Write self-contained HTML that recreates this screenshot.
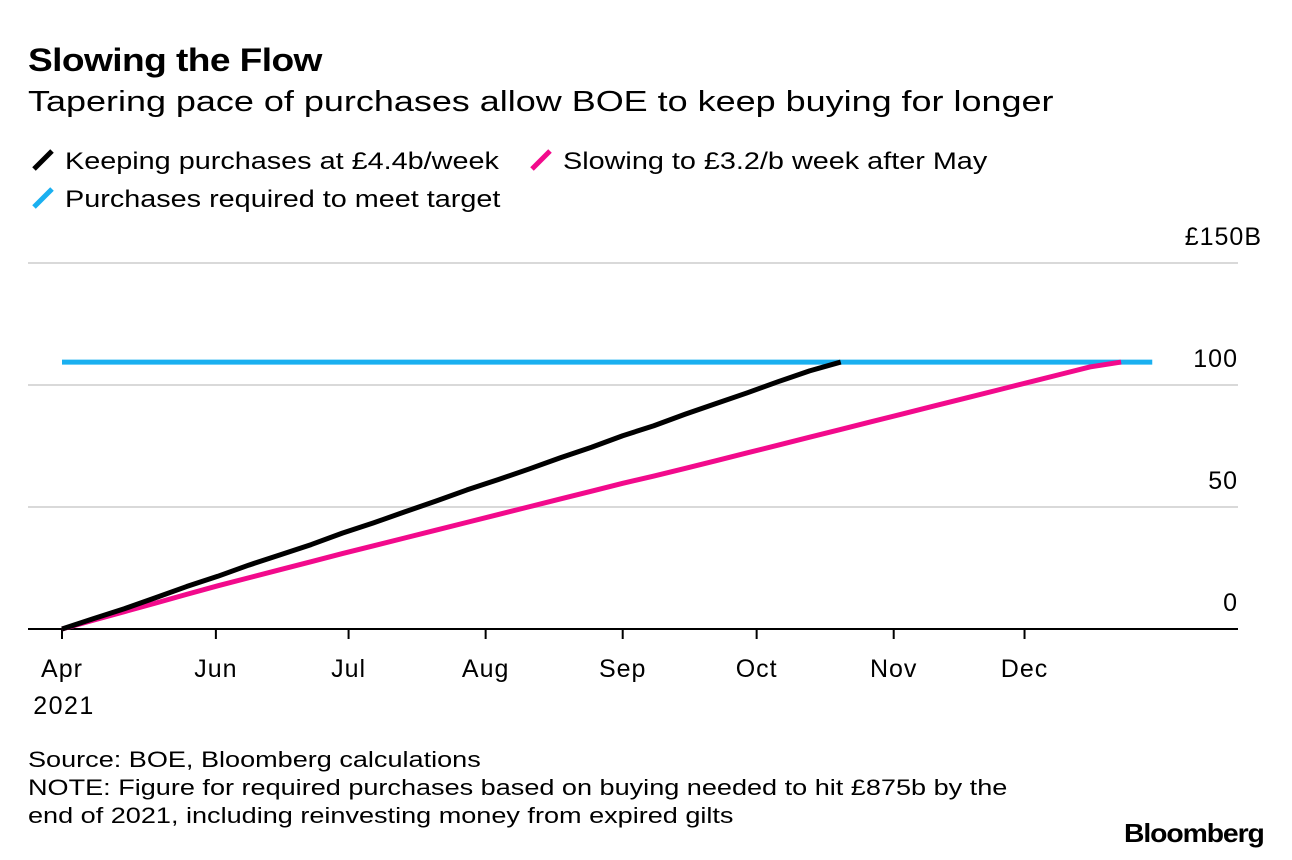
<!DOCTYPE html>
<html><head><meta charset="utf-8"><style>
body{margin:0;background:#fff;width:1292px;height:860px;overflow:hidden;font-family:"Liberation Sans",sans-serif;color:#000}
.t{position:absolute;white-space:nowrap;transform-origin:left top}
</style></head><body>
<div class="t" style="left:28px;top:42px;font-size:32px;font-weight:bold;letter-spacing:-0.5px;transform:scaleX(1.16)">Slowing the Flow</div>
<div class="t" style="left:28px;top:86px;font-size:29px;transform:scaleX(1.24)">Tapering pace of purchases allow BOE to keep buying for longer</div>
<div class="t" style="left:28px;top:147px;font-size:24px"><svg width="30" height="26" style="vertical-align:-4px"><line x1="6" y1="22" x2="24" y2="4" stroke="#000" stroke-width="5"/></svg> <span style="display:inline-block;transform:scaleX(1.2);transform-origin:left">Keeping purchases at £4.4b/week</span></div>
<div class="t" style="left:526px;top:147px;font-size:24px"><svg width="30" height="26" style="vertical-align:-4px"><line x1="6" y1="22" x2="24" y2="4" stroke="#f20a8c" stroke-width="5"/></svg> <span style="display:inline-block;transform:scaleX(1.2);transform-origin:left">Slowing to £3.2/b week after May</span></div>
<div class="t" style="left:28px;top:185px;font-size:24px"><svg width="30" height="26" style="vertical-align:-4px"><line x1="6" y1="22" x2="24" y2="4" stroke="#1ab0f0" stroke-width="5"/></svg> <span style="display:inline-block;transform:scaleX(1.2);transform-origin:left">Purchases required to meet target</span></div>
<svg id="chart" width="1292" height="860" style="position:absolute;left:0;top:0"></svg>
<div class="t" style="left:28px;top:746px;font-size:22px;line-height:28px;transform:scaleX(1.23)">Source: BOE, Bloomberg calculations<br>NOTE: Figure for required purchases based on buying needed to hit £875b by the<br>end of 2021, including reinvesting money from expired gilts</div>
<div class="t" style="left:1124px;top:818px;font-size:26px;font-weight:bold;letter-spacing:-1px;transform:scaleX(1.09)">Bloomberg</div>
<script>
const yTicks=[0,50,100,150];
const yTickLabels=["0","50","100","£150B"];
const monthLabels=["Apr","Jun","Jul","Aug","Sep","Oct","Nov","Dec"];
const monthWeeks=[0,4.94,9.2,13.6,18.0,22.3,26.7,30.9];
const keepingValues=[0,4.2,8.3,12.8,17.4,21.6,26.2,30.4,34.6,39.3,43.5,48.0,52.4,57.0,61.2,65.6,70.2,74.5,79.2,83.3,88.0,92.4,96.8,101.4,105.8,109.4];
const slowingValues=[0,3.6,7.1,10.6,14.2,17.7,21.0,24.3,27.6,30.9,34.1,37.3,40.5,43.7,46.9,50.1,53.3,56.5,59.7,62.7,65.8,69.0,72.2,75.4,78.6,81.8,85.0,88.2,91.4,94.6,97.8,101.0,104.2,107.4,109.4];
const requiredValues=[109.4,109.4];
const requiredWeeks=[0,35];
const svg=document.getElementById('chart');
const NS='http://www.w3.org/2000/svg';
const x=w=>62+w*31.15;
const y=v=>629-v*2.44;
function mk(t,a){const e=document.createElementNS(NS,t);for(const k in a)e.setAttribute(k,a[k]);svg.appendChild(e);return e;}
yTicks.forEach((v,i)=>{
 if(v>0){const g=mk('line',{x1:28,x2:1238,y1:y(v),y2:y(v),stroke:'#d9d9d9','stroke-width':2});
 
 }
 const right=v===150?1262:1238;
 const t=mk('text',{x:right,y:y(v)-18,'text-anchor':'end','font-size':25,'letter-spacing':1,'font-family':'Liberation Sans'});
 t.textContent=yTickLabels[i];
 
 
});
const ax=mk('line',{x1:28,x2:1238,y1:629,y2:629,stroke:'#000','stroke-width':2});


monthWeeks.forEach((w,i)=>{
 const tk=mk('line',{x1:x(w),x2:x(w),y1:629,y2:639,stroke:'#000','stroke-width':2});
 
 
 const t=mk('text',{x:x(w),y:677,'text-anchor':'middle','font-size':25,'letter-spacing':1,'font-family':'Liberation Sans'});
 t.textContent=monthLabels[i];
 
 
});
const yr=mk('text',{x:x(0)+2,y:714,'text-anchor':'middle','font-size':25,'letter-spacing':1.5,'font-family':'Liberation Sans'});
yr.textContent='2021';


function line(ws,vs,col,name){
 const p=mk('polyline',{points:vs.map((v,i)=>x(ws?ws[i]:i)+','+y(v)).join(' '),fill:'none',stroke:col,'stroke-width':5,'stroke-linejoin':'round'});
 
 
}
line(requiredWeeks,requiredValues,'#1ab0f0','required-line');
line(null,slowingValues,'#f20a8c','slowing-line');
line(null,keepingValues,'#000','keeping-line');
</script>
</body></html>
